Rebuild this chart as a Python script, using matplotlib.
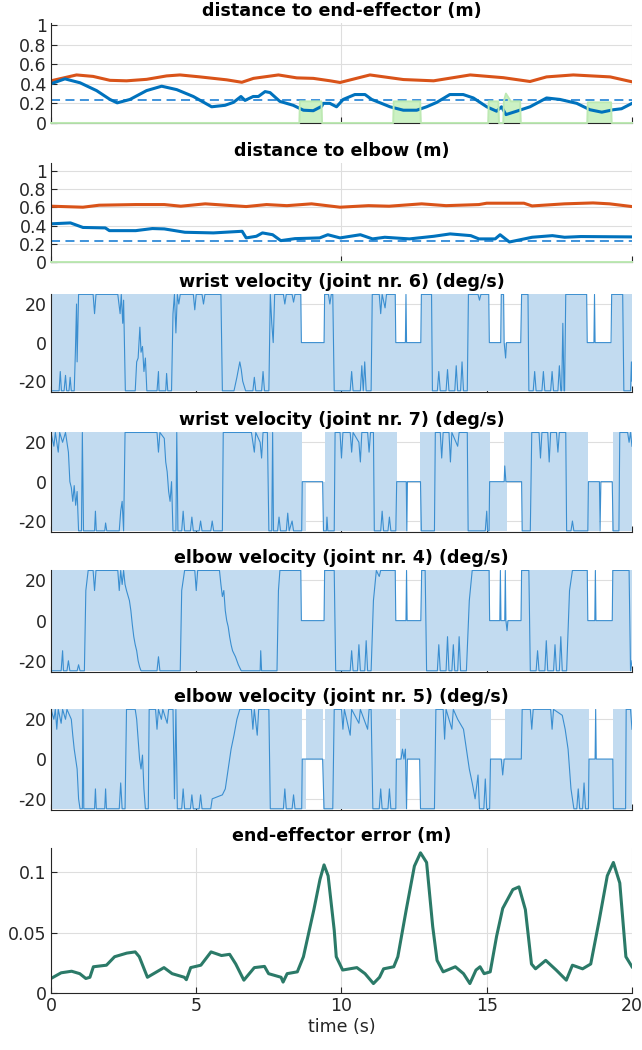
import numpy as np
import matplotlib
matplotlib.use('Agg')
import matplotlib.pyplot as plt

#Data
#distance to end-effector
ee_obs_t = [0, 0.48, 1.0, 1.57, 2.03, 2.28, 2.72, 3.29, 3.81, 4.33, 4.9, 5.53, 5.99, 6.28, 6.54, 6.68, 6.96, 7.14, 7.37, 7.54, 7.88, 8.34, 8.69, 9.03, 9.32, 9.37, 9.6, 9.83, 10.06, 10.46, 10.81, 11.04, 11.67, 12.13, 12.59, 12.93, 13.28, 13.73, 14.19, 14.54, 15.0, 15.34, 15.51, 15.66, 16.03, 16.49, 17.06, 17.52, 18.1, 18.55, 18.96, 19.36, 19.64, 20.0]
ee_obs_d = [0.40, 0.45, 0.41, 0.33, 0.24, 0.205, 0.24, 0.33, 0.375, 0.34, 0.27, 0.165, 0.18, 0.21, 0.27, 0.23, 0.27, 0.27, 0.32, 0.31, 0.22, 0.18, 0.13, 0.125, 0.17, 0.20, 0.20, 0.165, 0.24, 0.29, 0.29, 0.24, 0.165, 0.13, 0.13, 0.165, 0.21, 0.29, 0.29, 0.255, 0.165, 0.12, 0.165, 0.085, 0.12, 0.165, 0.255, 0.24, 0.20, 0.135, 0.11, 0.135, 0.145, 0.20]
ee_far_t = [0, 0.88, 1.45, 2.03, 2.6, 3.29, 3.98, 4.44, 5.13, 6.05, 6.57, 6.97, 7.83, 8.46, 9.03, 9.61, 9.95, 10.98, 12.13, 13.17, 14.43, 15.57, 16.49, 17.06, 17.98, 19.25, 20.0]
ee_far_d = [0.43, 0.49, 0.475, 0.435, 0.43, 0.445, 0.48, 0.49, 0.47, 0.44, 0.415, 0.455, 0.49, 0.46, 0.455, 0.43, 0.413, 0.49, 0.443, 0.43, 0.49, 0.462, 0.423, 0.47, 0.49, 0.47, 0.42]
ee_thr = 0.23
#active constraint (green)
act_t = [0, 8.55, 8.57, 9.31, 9.33, 11.78, 11.8, 12.71, 12.73, 15.05, 15.07, 15.4, 15.42, 15.57, 15.59, 15.66, 15.83, 16.15, 16.17, 18.46, 18.48, 19.28, 19.3, 20]
act_d = [0, 0, 0.22, 0.22, 0, 0, 0.22, 0.22, 0, 0, 0.22, 0.22, 0, 0, 0.22, 0.30, 0.22, 0.22, 0, 0, 0.21, 0.21, 0, 0]

#distance to elbow
el_obs_t = [0, 0.67, 1.1, 1.87, 2.01, 2.92, 3.49, 3.9, 4.61, 5.59, 6.58, 6.72, 7.07, 7.28, 7.63, 7.91, 8.4, 9.25, 9.53, 9.95, 10.65, 11.07, 11.49, 12.34, 13.18, 13.74, 14.45, 14.73, 15.29, 15.46, 15.78, 16.56, 17.26, 17.68, 18.24, 20.0]
el_obs_d = [0.42, 0.43, 0.38, 0.375, 0.345, 0.345, 0.368, 0.364, 0.327, 0.32, 0.338, 0.265, 0.283, 0.32, 0.30, 0.235, 0.257, 0.265, 0.30, 0.265, 0.30, 0.254, 0.272, 0.254, 0.283, 0.309, 0.29, 0.254, 0.254, 0.30, 0.22, 0.272, 0.29, 0.272, 0.28, 0.276]
el_far_t = [0, 1.1, 1.66, 2.92, 3.9, 4.47, 5.31, 6.72, 7.42, 8.12, 8.97, 9.95, 10.93, 11.64, 12.76, 13.6, 14.73, 15.0, 16.28, 16.56, 17.68, 18.66, 19.23, 20.0]
el_far_d = [0.614, 0.603, 0.625, 0.632, 0.632, 0.614, 0.64, 0.61, 0.632, 0.62, 0.64, 0.603, 0.62, 0.614, 0.64, 0.62, 0.632, 0.647, 0.647, 0.617, 0.64, 0.65, 0.64, 0.61]
el_thr = 0.235
el_act_t = [0, 20]
el_act_d = [0, 0]

#joint velocities (deg/s) + limits
w6_t = [0, 0.28, 0.32, 0.36, 0.45, 0.5, 0.54, 0.62, 0.66, 0.7, 0.8, 0.84, 0.88, 0.9, 0.95, 1.45, 1.5, 1.55, 2.3, 2.38, 2.42, 2.47, 2.5, 2.56, 2.9, 2.95, 3.0, 3.06, 3.1, 3.15, 3.2, 3.25, 3.3, 3.65, 3.7, 3.72, 3.95, 3.98, 4.02, 4.15, 4.2, 4.25, 4.3, 4.35, 4.4, 4.45, 4.9, 4.95, 5.0, 5.2, 5.25, 5.3, 5.85, 5.9, 6.3, 6.4, 6.5, 6.55, 6.6, 6.7, 6.95, 7.0, 7.05, 7.25, 7.3, 7.35, 7.5, 7.55, 7.6, 7.65, 7.7, 8.0, 8.05, 8.1, 8.3, 8.35, 8.4, 8.6, 8.62, 9.4, 9.42, 9.55, 9.6, 9.65, 9.7, 9.75, 10.3, 10.35, 10.4, 10.65, 10.7, 10.75, 10.8, 10.85, 11.02, 11.06, 11.3, 11.35, 11.4, 11.5, 11.55, 11.85, 11.87, 12.2, 12.22, 12.24, 12.73, 12.75, 13.1, 13.13, 13.3, 13.35, 13.4, 13.6, 13.65, 13.7, 13.9, 13.95, 14.0, 14.1, 14.15, 14.2, 14.33, 14.37, 14.7, 14.75, 14.8, 15.07, 15.09, 15.48, 15.5, 15.58, 15.6, 15.65, 15.68, 16.17, 16.2, 16.42, 16.45, 16.6, 16.65, 16.7, 16.9, 16.95, 17.0, 17.2, 17.25, 17.3, 17.45, 17.5, 17.55, 17.58, 17.62, 17.66, 17.68, 17.72, 18.44, 18.46, 18.69, 18.71, 18.73, 19.28, 19.3, 19.68, 19.72, 19.95, 19.98, 20.0]
w6_v = [-25, -25, -15, -25, -25, -17, -25, -25, -18, -25, -25, -5, 20, -10, 25, 25, 15, 25, 25, 15, 25, 10, 22, -25, -25, -10, -8, 8, -5, -2, -15, -8, -25, -25, -15, -25, -25, -16, -25, -25, 15, 25, 5, 25, 20, 25, 25, 17, 25, 25, 20, 25, 25, -25, -25, -18, -10, -14, -20, -25, -25, -18, -25, -25, -15, -25, -25, 25, 10, 0, 25, 25, 20, 25, 25, 21, 25, 25, 0, 0, 25, 25, 20, 25, 25, -25, -25, -15, -25, -25, -12, -25, -10, -25, -25, 25, 25, 15, 25, 18, 25, 25, 0, 0, 25, 0, 0, 25, 25, -25, -25, -15, -25, -25, -14, -25, -25, -12, -25, -25, -10, -25, -25, 25, 25, 22, 25, 25, 0, 0, 25, 25, 0, -8, 0, 0, 25, 25, -25, -25, -15, -25, -25, -15, -25, -25, -15, -25, -25, -12, -25, -25, 10, -25, -25, 25, 25, 0, 0, 25, 0, 0, 25, 25, -25, -25, -10, -20]
w6_lim_t = [0, 8.62, 9.40, 11.87, 12.73, 15.09, 15.48, 15.60, 16.17, 18.46, 19.30, 20]
w6_up = [25, 0, 25, 0, 25, 0, 25, 0, 25, 0, 25, 25]
w6_lo = [-25, -25, -25, -25, -25, -25, -25, -25, -25, -25, -25, -25]

w7_t = [0, 0.1, 0.15, 0.25, 0.3, 0.4, 0.5, 0.6, 0.65, 0.7, 0.75, 0.8, 0.85, 0.9, 0.95, 1.05, 1.08, 1.12, 1.5, 1.53, 1.56, 1.85, 1.88, 1.92, 2.35, 2.4, 2.45, 2.5, 2.55, 3.65, 3.7, 3.75, 3.9, 3.95, 4.0, 4.05, 4.1, 4.15, 4.2, 4.3, 4.33, 4.37, 4.5, 4.55, 4.6, 4.8, 4.85, 4.9, 5.1, 5.15, 5.2, 5.5, 5.55, 5.6, 5.9, 5.93, 6.9, 7.0, 7.05, 7.2, 7.25, 7.3, 7.45, 7.5, 7.6, 7.63, 7.66, 7.8, 7.85, 7.9, 8.1, 8.15, 8.2, 8.3, 8.35, 8.63, 8.65, 9.35, 9.38, 9.48, 9.5, 9.53, 9.75, 9.78, 9.95, 10.0, 10.05, 10.3, 10.35, 10.4, 10.6, 10.65, 10.7, 10.9, 10.95, 11.0, 11.1, 11.13, 11.35, 11.4, 11.45, 11.6, 11.65, 11.7, 11.87, 11.9, 12.23, 12.25, 12.27, 12.72, 12.75, 13.2, 13.23, 13.4, 13.45, 13.5, 13.7, 13.75, 13.8, 14.0, 14.05, 14.33, 14.36, 14.95, 15.0, 15.03, 15.08, 15.1, 15.6, 15.62, 15.66, 16.2, 16.22, 16.5, 16.55, 16.8, 16.85, 16.9, 17.1, 17.15, 17.2, 17.4, 17.45, 17.5, 17.72, 17.75, 17.9, 17.95, 18.0, 18.48, 18.5, 18.88, 18.9, 18.93, 19.32, 19.35, 19.55, 19.58, 19.85, 19.9, 19.95, 20.0]
w7_v = [25, 18, 25, 15, 25, 20, 25, 15, 0, -3, -10, -2, -12, -5, -25, -25, 25, -25, -25, -15, -25, -25, -21, -25, -25, -15, -10, -25, 25, 25, 15, 25, 22, 10, 5, -5, -10, 0, -25, -25, 25, -25, -25, -15, -25, -25, -18, -25, -25, -20, -25, -25, -20, -25, -25, 25, 25, 15, 25, 20, 12, 25, 25, -25, -25, 25, -25, -25, -18, -25, -25, -16, -25, -20, -25, -25, 0, 0, -25, -25, -18, -25, -25, 25, 25, 12, 25, 25, 15, 25, 20, 10, 25, 25, 15, 25, 25, -25, -25, -15, -25, -25, -18, -25, -25, 0, 0, -25, 0, 0, -25, -25, 25, 25, 12, 25, 25, 10, 25, 18, 25, 25, -25, -25, -15, -25, -25, 0, 0, 8, 0, 0, -25, -25, 25, 25, 12, 25, 25, 10, 25, 25, 15, 25, 25, -25, -25, -20, -25, -25, 0, 0, -25, 0, 0, -25, -25, 25, 25, 20, 25, 18]
w7_lim_t = [0, 8.65, 8.78, 9.35, 9.42, 11.9, 12.26, 12.72, 15.1, 15.6, 15.7, 16.2, 18.5, 18.86, 19.32, 19.35, 20]
w7_up = [25, 0, 0, 0, 25, 0, 0, 25, 0, 25, 25, 25, 0, 0, 0, 25, 25]
w7_lo = [-25, -25, 0, -25, -25, -25, 0, -25, -25, -25, 0, -25, -25, 0, -25, -25, -25]

e4_t = [0, 0.35, 0.4, 0.43, 0.55, 0.6, 0.65, 0.9, 0.95, 1.0, 1.15, 1.2, 1.28, 1.45, 1.5, 1.55, 2.3, 2.35, 2.4, 2.45, 2.5, 2.55, 2.6, 2.7, 2.75, 2.8, 2.85, 2.9, 2.95, 3.0, 3.05, 3.1, 3.65, 3.7, 3.75, 4.45, 4.5, 4.6, 4.95, 5.0, 5.05, 5.8, 5.85, 5.9, 5.95, 6.0, 6.05, 6.1, 6.15, 6.2, 6.25, 6.35, 6.45, 6.55, 7.2, 7.22, 7.25, 7.78, 7.83, 7.88, 8.6, 8.62, 9.4, 9.42, 9.75, 9.8, 10.3, 10.35, 10.4, 10.55, 10.6, 10.65, 10.8, 10.85, 10.9, 11.02, 11.1, 11.2, 11.3, 11.35, 11.85, 11.87, 12.22, 12.24, 12.26, 12.73, 12.76, 12.88, 12.93, 13.3, 13.35, 13.4, 13.6, 13.65, 13.7, 13.8, 13.85, 13.9, 14.0, 14.05, 14.1, 14.3, 14.4, 14.5, 15.08, 15.1, 15.45, 15.47, 15.49, 15.62, 15.64, 15.66, 15.7, 15.73, 16.18, 16.2, 16.45, 16.5, 16.7, 16.75, 16.8, 17.0, 17.05, 17.1, 17.3, 17.35, 17.4, 17.5, 17.55, 17.6, 17.75, 17.85, 17.95, 18.46, 18.48, 18.72, 18.74, 18.76, 19.32, 19.34, 19.9, 19.95, 20.0]
e4_v = [-25, -25, -15, -25, -25, -20, -25, -25, -22, -25, -25, 15, 25, 25, 15, 25, 25, 15, 25, 18, 25, 18, 15, 10, 5, -2, -8, -12, -15, -20, -23, -25, -25, -18, -25, -25, 15, 25, 25, 15, 25, 25, 18, 12, 15, 5, 0, -3, -8, -12, -15, -18, -22, -25, -25, -15, -25, -25, 15, 25, 25, 0, 0, 25, 25, -25, -25, -15, -25, -25, -12, -25, -25, -10, -25, -25, 10, 25, 22, 25, 25, 0, 0, 25, 0, 0, 25, 25, -25, -25, -12, -25, -25, -8, -25, -25, -12, -25, -25, -8, -25, -25, 10, 25, 25, 0, 0, 25, 0, 0, 25, 0, -5, 0, 0, 25, 25, -25, -25, -15, -25, -25, -10, -25, -25, -12, -25, -25, -8, -25, -25, 15, 25, 25, 0, 0, 25, 0, 0, 25, 25, -25, -20]
e4_lim_t = [0, 8.62, 9.40, 11.87, 12.75, 15.10, 16.18, 18.48, 19.32, 20]
e4_up = [25, 0, 25, 0, 25, 0, 25, 0, 25, 25]
e4_lo = [-25, -25, -25, -25, -25, -25, -25, -25, -25, -25]

e5_t = [0, 0.1, 0.15, 0.2, 0.25, 0.35, 0.4, 0.5, 0.55, 0.7, 0.75, 0.8, 0.85, 0.9, 0.95, 1.0, 1.08, 1.1, 1.13, 1.5, 1.53, 1.56, 1.85, 1.88, 1.91, 2.35, 2.4, 2.45, 2.55, 2.6, 2.9, 2.95, 3.0, 3.05, 3.1, 3.15, 3.2, 3.25, 3.35, 3.38, 3.6, 3.65, 3.7, 3.8, 3.85, 4.0, 4.05, 4.2, 4.25, 4.3, 4.35, 4.5, 4.55, 4.6, 4.8, 4.85, 4.9, 5.1, 5.15, 5.2, 5.5, 5.55, 5.9, 6.0, 6.1, 6.2, 6.3, 6.4, 6.5, 6.9, 6.95, 7.0, 7.1, 7.15, 7.5, 7.55, 8.0, 8.05, 8.1, 8.3, 8.35, 8.4, 8.63, 8.65, 9.35, 9.4, 9.7, 9.75, 10.0, 10.05, 10.1, 10.3, 10.35, 10.6, 10.65, 10.9, 10.95, 11.02, 11.08, 11.3, 11.35, 11.4, 11.6, 11.65, 11.7, 11.87, 11.89, 12.05, 12.1, 12.15, 12.2, 12.24, 12.27, 12.69, 12.72, 13.2, 13.25, 13.5, 13.55, 13.6, 13.8, 13.85, 14.0, 14.2, 14.3, 14.4, 14.5, 14.6, 14.7, 14.75, 14.9, 14.95, 15.0, 15.1, 15.13, 15.5, 15.55, 15.6, 16.19, 16.22, 16.5, 16.55, 16.6, 17.2, 17.25, 17.3, 17.6, 17.7, 17.8, 17.85, 17.9, 18.0, 18.1, 18.15, 18.2, 18.3, 18.35, 18.4, 18.5, 18.52, 18.73, 18.75, 18.77, 19.34, 19.36, 19.78, 19.8, 19.95, 20.0]
e5_v = [25, 20, 25, 15, 25, 18, 25, 20, 25, 20, 12, 5, 0, -5, -20, -25, -25, 25, -25, -25, -15, -25, -25, -15, -25, -25, -12, -25, -25, 25, 25, 20, 10, 0, -5, 2, -15, -25, -25, 25, 25, 15, 25, 20, 25, 18, 25, 25, -20, 25, -25, -25, -15, -25, -25, -18, -25, -25, -18, -25, -25, -20, -18, -15, -5, 5, 12, 20, 25, 25, 15, 25, 12, 25, 25, -25, -25, -15, -25, -25, -18, -25, -25, 0, 0, -25, -25, 25, 25, 15, 25, 12, 25, 18, 25, 15, 25, 25, -25, -25, -15, -25, -25, -15, -25, -25, 0, 0, 5, 0, 5, -25, 0, 0, -25, -25, 25, 25, 10, 25, 15, 25, 20, 15, 5, -5, -12, -20, -8, -25, -25, -10, -25, -25, 0, 0, -8, 0, 0, 25, 25, 15, 25, 25, 15, 25, 22, 15, 5, -5, -15, -25, -25, -15, -25, -25, -12, -25, -25, 0, 0, 25, 0, 0, -25, -25, 25, 25, 15]
e5_lim_t = [0, 8.65, 8.78, 9.35, 9.42, 11.89, 12.03, 12.24, 12.69, 15.13, 15.63, 18.52, 19.34, 20]
e5_up = [25, 0, 25, 0, 25, 0, 25, 25, 25, 0, 25, 0, 25, 25]
e5_lo = [-25, -25, 0, -25, -25, -25, -25, 0, -25, -25, -25, -25, -25, -25]

#end-effector error
err_t = [0, 0.35, 0.71, 0.99, 1.2, 1.34, 1.46, 1.91, 2.19, 2.61, 2.9, 3.04, 3.32, 3.89, 4.17, 4.59, 4.66, 4.81, 5.16, 5.51, 5.87, 6.15, 6.36, 6.64, 7.0, 7.35, 7.49, 7.92, 7.99, 8.13, 8.48, 8.69, 9.05, 9.26, 9.4, 9.54, 9.75, 9.82, 10.04, 10.53, 10.81, 11.1, 11.31, 11.45, 11.8, 11.94, 12.23, 12.51, 12.72, 12.93, 13.14, 13.29, 13.5, 13.92, 14.2, 14.42, 14.63, 14.77, 14.91, 15.12, 15.34, 15.55, 15.9, 16.11, 16.33, 16.54, 16.68, 17.03, 17.39, 17.74, 17.95, 18.3, 18.58, 18.87, 19.15, 19.36, 19.58, 19.79, 20.0]
err_m = [0.012, 0.0167, 0.018, 0.016, 0.012, 0.013, 0.0217, 0.023, 0.03, 0.033, 0.034, 0.03, 0.013, 0.021, 0.016, 0.013, 0.011, 0.021, 0.023, 0.034, 0.031, 0.032, 0.024, 0.0106, 0.021, 0.022, 0.016, 0.013, 0.009, 0.016, 0.0175, 0.03, 0.069, 0.094, 0.106, 0.097, 0.052, 0.03, 0.019, 0.021, 0.016, 0.0078, 0.013, 0.02, 0.0217, 0.03, 0.069, 0.105, 0.116, 0.108, 0.055, 0.027, 0.0175, 0.0217, 0.016, 0.0078, 0.019, 0.0217, 0.016, 0.0175, 0.047, 0.07, 0.0856, 0.0878, 0.069, 0.024, 0.02, 0.027, 0.019, 0.0106, 0.023, 0.02, 0.024, 0.06, 0.097, 0.108, 0.091, 0.03, 0.0217]

titles = ['distance to end-effector (m)', 'distance to elbow (m)',
          'wrist velocity (joint nr. 6) (deg/s)', 'wrist velocity (joint nr. 7) (deg/s)',
          'elbow velocity (joint nr. 4) (deg/s)', 'elbow velocity (joint nr. 5) (deg/s)',
          'end-effector error (m)']

#Colors
c_blue = '#0072bd'
c_red = '#d95319'
c_dash = '#2f8ad8'
c_green = '#ccf1c4'
c_green_edge = '#bde9b3'
c_fill = '#c2dbf0'
c_vel = '#3a8ed0'
c_err = '#2b7a68'
c_txt = '#262626'

plt.rcParams['font.family'] = ['DejaVu Sans']
plt.rcParams['axes.unicode_minus'] = False

fig = plt.figure(figsize=(6.42, 10.5), dpi=100)

#axes positions (left, bottom, width, height) in figure fraction
L, W = 0.0794, 0.905
pos = [(L, 0.8829, W, 0.0952),
       (L, 0.7505, W, 0.0943),
       (L, 0.6267, W, 0.0933),
       (L, 0.4933, W, 0.0952),
       (L, 0.3600, W, 0.0971),
       (L, 0.2286, W, 0.0962),
       (L, 0.0543, W, 0.1381)]
axs = [fig.add_axes(p) for p in pos]


def style(ax, title):
    ax.set_title(title, fontsize=12.6, fontweight='bold', color='black', pad=5)
    ax.set_xlim(0, 20)
    for s in ['top', 'right']:
        ax.spines[s].set_visible(False)
    for s in ['left', 'bottom']:
        ax.spines[s].set_color(c_txt)
        ax.spines[s].set_linewidth(0.8)
    ax.tick_params(direction='in', length=4, width=0.8, colors=c_txt, labelsize=12.5, pad=3)
    ax.grid(True, color='#dedede', linewidth=0.8)
    ax.set_axisbelow(True)


#distance panels
dist = [(ee_obs_t, ee_obs_d, ee_far_t, ee_far_d, ee_thr, act_t, act_d, 1.02),
        (el_obs_t, el_obs_d, el_far_t, el_far_d, el_thr, el_act_t, el_act_d, 1.09)]
for i, (ot, od, ft, fd, thr, at, ad, ytop) in enumerate(dist):
    ax = axs[i]
    ax.fill_between(at, 0, ad, color=c_green, linewidth=0)
    ax.plot(at, ad, color=c_green_edge, linewidth=1.4, zorder=3, clip_on=False)
    ax.axhline(thr, color=c_dash, linewidth=1.3, linestyle=(0, (5, 3)))
    ax.plot(ft, fd, color=c_red, linewidth=2.2)
    ax.plot(ot, od, color=c_blue, linewidth=2.2)
    style(ax, titles[i])
    ax.set_ylim(0, ytop)
    ax.set_yticks([0, 0.2, 0.4, 0.6, 0.8, 1])
    ax.set_yticklabels(['0', '0.2', '0.4', '0.6', '0.8', '1'])
    ax.set_xticks([0, 10, 20])
    ax.set_xticklabels([])

#velocity panels
vel = [(w6_t, w6_v, w6_lim_t, w6_up, w6_lo),
       (w7_t, w7_v, w7_lim_t, w7_up, w7_lo),
       (e4_t, e4_v, e4_lim_t, e4_up, e4_lo),
       (e5_t, e5_v, e5_lim_t, e5_up, e5_lo)]
for k, (vt, vv, lt, up, lo) in enumerate(vel):
    ax = axs[k + 2]
    ax.fill_between(lt, lo, up, step='post', color=c_fill, linewidth=0)
    ax.plot(vt, vv, color=c_vel, linewidth=0.8)
    style(ax, titles[k + 2])
    ax.set_ylim(-25.6, 25.2)
    ax.set_yticks([-20, 0, 20])
    ax.set_xticks([0, 5, 10, 15, 20])
    ax.set_xticklabels([])

#error panel
ax = axs[6]
ax.plot(err_t, err_m, color=c_err, linewidth=2.2)
style(ax, titles[6])
ax.set_ylim(0, 0.12)
ax.set_yticks([0, 0.05, 0.1])
ax.set_yticklabels(['0', '0.05', '0.1'])
ax.set_xticks([0, 5, 10, 15, 20])
ax.set_xlabel('time (s)', fontsize=12.5, color=c_txt, labelpad=2)

fig.savefig('out.png', dpi=100)
